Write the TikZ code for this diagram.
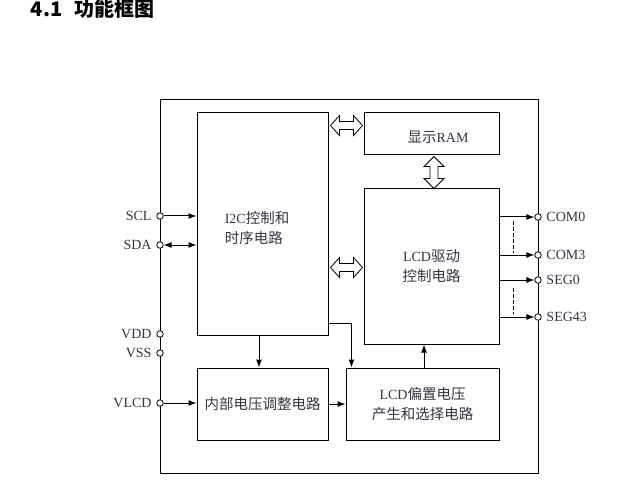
\documentclass[tikz,border=0pt]{standalone}
\usepackage{fontspec}
\setmainfont{Liberation Serif}
\newfontfamily\cjk{Noto Sans CJK SC}
\usepackage{tikz}
\usetikzlibrary{positioning}
\usetikzlibrary{arrows.meta,calc}
\definecolor{ink}{RGB}{55,50,65}
\newcommand{\zh}[1]{{\cjk\fontsize{14.5}{20}\selectfont #1}}
\tikzset{
  block/.style={draw, line width=1pt, inner sep=0pt, align=center, text=ink},
  pinhole/.style={circle, draw, fill=white, line width=0.8pt, inner sep=0pt, minimum size=6.5pt},
  pinlabel/.style={text=ink, label distance=1pt},
  hollow/.style={draw, line width=0.8pt, fill=white},
}

\begin{document}
\begin{tikzpicture}[x=1pt,y=-1pt,>={Latex[length=8pt,width=6pt]},line width=1pt,font=\fontsize{14}{20}\selectfont]
      \useasboundingbox (0,0) rectangle (621,489);
      \node[anchor=base west, font=\cjk\bfseries\fontsize{20}{24}\selectfont] (title) at (27,17) {4.1\hspace{12pt}功能框图};
      % chip outline
      \node[draw, line width=1pt, inner sep=0pt, minimum width=378pt, minimum height=373pt] (chip) at (349,286.5) {};
      % blocks
      \node[block, minimum width=131pt, minimum height=222pt] (i2c) at (262.5,224) {};
      \node[text=ink, align=left, anchor=west] (i2ctext) at (221,228) {I2C\zh{控制和}\\\zh{时序电路}};
      \node[block, minimum width=135pt, minimum height=42pt] (ram) at (431.5,134) {};
      \node[text=ink] (ramtext) at (438,137) {\zh{显示}RAM};
      \node[block, minimum width=135pt, minimum height=155pt] (lcd) at (431.5,266.5) {LCD\zh{驱动}\\\zh{控制电路}};
      \node[block, minimum width=131pt, minimum height=72pt] (vreg) at (262.5,404) {\zh{内部电压调整电路}};
      \node[block, minimum width=153pt, minimum height=72pt] (bias) at (422.5,404) {LCD\zh{偏置电压}\\\zh{产生和选择电路}};
      % pins
      \node[pinhole, label={[pinlabel]left:SCL}] (scl) at (160,216) {};
      \node[pinhole, label={[pinlabel]left:SDA}] (sda) at (160,245) {};
      \node[pinhole, label={[pinlabel]left:VDD}] (vdd) at (160,334) {};
      \node[pinhole, label={[pinlabel]left:VSS}] (vss) at (160,353) {};
      \node[pinhole, label={[pinlabel]left:VLCD}] (vlcd) at (160,403) {};
      \node[pinhole, label={[pinlabel]right:COM0}] (com0) at (538,217) {};
      \node[pinhole, label={[pinlabel]right:COM3}] (com3) at (538,255) {};
      \node[pinhole, label={[pinlabel]right:SEG0}] (seg0) at (538,280) {};
      \node[pinhole, label={[pinlabel]right:SEG43}] (seg43) at (538,317) {};
      % signals
      \draw[->] (scl) -- (scl -| i2c.west);
      \draw[<->] (sda) -- (sda -| i2c.west);
      \draw[->] (vlcd) -- (vlcd -| vreg.west);
      \draw[->] (vreg) -- (bias);
      \draw[->] ([xshift=-3.5pt]i2c.south) -- ([xshift=-3.5pt]vreg.north);
      \draw[->] ([yshift=12pt]i2c.south east) -| ([xshift=6pt]bias.north west);
      \draw[->] ([xshift=1.5pt]bias.north) -- ([xshift=1.5pt]bias.north |- lcd.south);
      \foreach \p in {com0,com3,seg0,seg43}
        \draw[->] (lcd.east |- \p) -- (\p);
      \draw[dashed, dash pattern=on 4pt off 2pt] ($(com0)+(-25,4)$) -- ($(com3)+(-25,-2)$);
      \draw[dashed, dash pattern=on 4pt off 2pt] ($(seg0)+(-25,8)$) -- ($(seg43)+(-25,-3)$);
      % data buses
      \draw[hollow] ($(i2c.east |- ram.north)+(2,13)$) -- ++(9,-10) -- ++(0,6) -- ++(14,0) -- ++(0,-6) -- ++(9,10)
        -- ++(-9,10) -- ++(0,-6) -- ++(-14,0) -- ++(0,6) -- cycle;
      \draw[hollow] ($(i2c.east |- lcd.north)+(2,79)$) -- ++(9,-10) -- ++(0,6) -- ++(14,0) -- ++(0,-6) -- ++(9,10)
        -- ++(-9,10) -- ++(0,-6) -- ++(-14,0) -- ++(0,6) -- cycle;
      \draw[hollow] ($(ram.south)+(2.5,1)$) -- ++(-10,10) -- ++(6,0) -- ++(0,12) -- ++(-6,0) -- ++(10,10)
        -- ++(10,-10) -- ++(-6,0) -- ++(0,-12) -- ++(6,0) -- cycle;
    \end{tikzpicture}
\end{document}
